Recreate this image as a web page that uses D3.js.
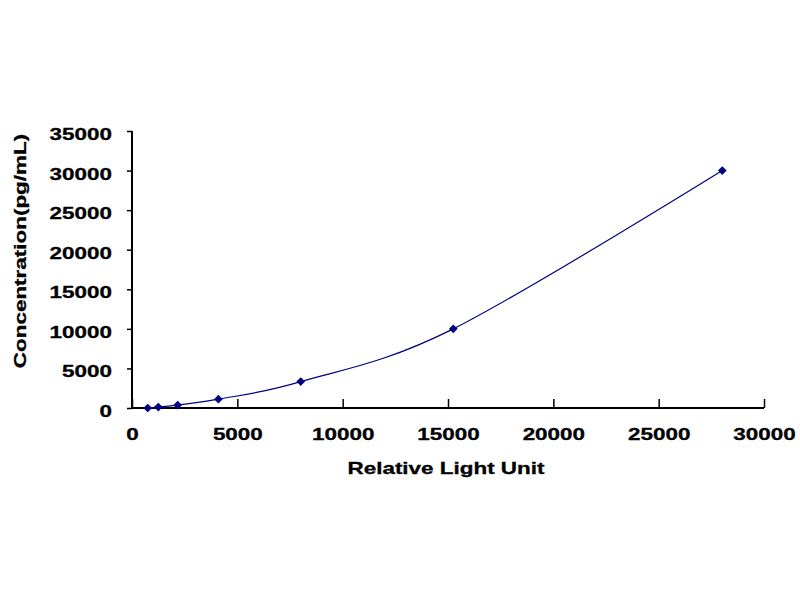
<!DOCTYPE html>
<html>
<head>
<meta charset="utf-8">
<script src="https://cdn.jsdelivr.net/npm/d3@7"></script>
<style>
  html, body { margin: 0; padding: 0; background: #fff; }
  svg { display: block; }
  text { font-family: "Liberation Sans", Arial, sans-serif; font-weight: bold; fill: #000; stroke: #000; stroke-width: 0.3px; }
</style>
</head>
<body>
<svg id="chart" width="800" height="600"></svg>
<script>
// Data
const rlu = [745, 1250, 2170, 4100, 8010, 15250, 28020];
const concentration = [0, 123, 370, 1111, 3333, 10000, 30000];
const xTicks = [0, 5000, 10000, 15000, 20000, 25000, 30000];
const yTicks = [0, 5000, 10000, 15000, 20000, 25000, 30000, 35000];
const xTitle = "Relative Light Unit";
const yTitle = "Concentration(pg/mL)";

const svg = d3.select("#chart");
const plotLeft = 132, plotRight = 764, plotTop = 131, plotBottom = 408;
const stretch = 1.32;
const fontSize = 17;

const x = d3.scaleLinear().domain([0, 30000]).range([plotLeft, plotRight]);
const y = d3.scaleLinear().domain([0, 35000]).range([plotBottom, plotTop]);

function widen(sel) {
  sel.each(function () {
    const w = this.getComputedTextLength();
    d3.select(this).attr("textLength", w * stretch).attr("lengthAdjust", "spacingAndGlyphs");
  });
}

// Y axis
const yAxis = svg.append("g")
  .attr("transform", `translate(${plotLeft},0)`)
  .call(d3.axisLeft(y).tickValues(yTicks).tickSize(5).tickPadding(15).tickFormat(d3.format("d")));
yAxis.select(".domain").attr("stroke", "#000").attr("stroke-width", 2).attr("d", `M0,${plotTop}V${plotBottom}`);
yAxis.selectAll(".tick line").attr("stroke", "#000").attr("stroke-width", 1.5);
yAxis.selectAll(".tick text")
  .style("font-size", fontSize + "px")
  .attr("dy", "0.5em")
  .call(widen);

// X axis (ticks pointing inward)
const xAxis = svg.append("g")
  .attr("transform", `translate(0,${plotBottom})`)
  .call(d3.axisBottom(x).tickValues(xTicks).tickSize(-9).tickPadding(0).tickFormat(d3.format("d")));
xAxis.select(".domain").attr("stroke", "#000").attr("stroke-width", 2).attr("d", `M${plotLeft},0H${plotRight}`);
xAxis.selectAll(".tick line").attr("stroke", "#000").attr("stroke-width", 1.5);
xAxis.selectAll(".tick text")
  .style("font-size", fontSize + "px")
  .attr("y", 32)
  .attr("dy", 0)
  .call(widen);

// Curve
const pts = rlu.map((r, i) => [r, concentration[i]]);
const line = d3.line()
  .x(d => x(d[0]))
  .y(d => y(d[1]))
  .curve(d3.curveCardinal.tension(0));
svg.append("path")
  .datum(pts)
  .attr("d", line)
  .attr("fill", "none")
  .attr("stroke", "#000080")
  .attr("stroke-width", 1.2);

// Markers (square diamonds)
svg.append("g").selectAll("path")
  .data(pts)
  .join("path")
  .attr("transform", d => `translate(${x(d[0])},${y(d[1])}) rotate(45)`)
  .attr("d", d3.symbol(d3.symbolSquare, 38))
  .attr("fill", "#000080");

// Axis titles
svg.append("text")
  .attr("x", 446)
  .attr("y", 474)
  .attr("text-anchor", "middle")
  .style("font-size", fontSize + "px")
  .text(xTitle)
  .call(widen);

svg.append("text")
  .attr("transform", `translate(26,251) rotate(-90)`)
  .attr("text-anchor", "middle")
  .style("font-size", fontSize + "px")
  .text(yTitle)
  .call(widen);
</script>
</body>
</html>
